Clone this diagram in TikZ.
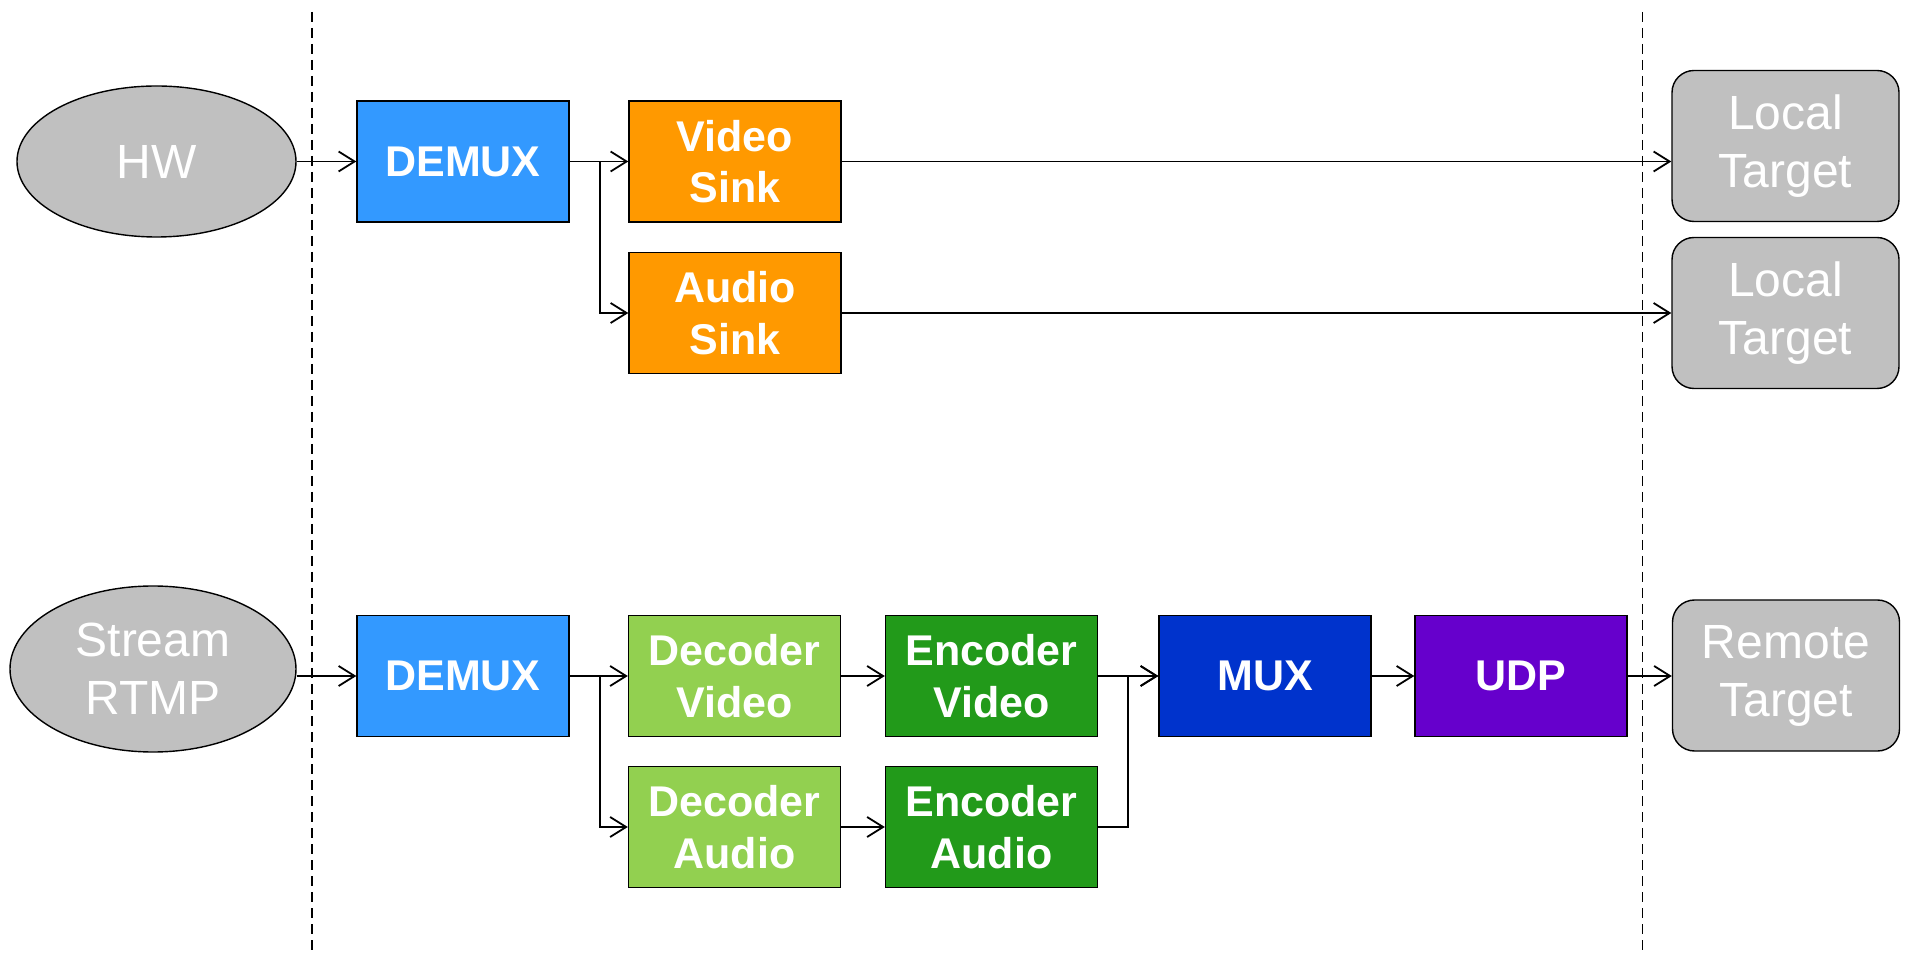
\documentclass[tikz,border=0pt]{standalone}
\usepackage{fontspec}
\setmainfont{Liberation Sans}
\usetikzlibrary{arrows.meta,shapes.geometric}
\definecolor{cdemux}{HTML}{3399FF}
\definecolor{csink}{HTML}{FF9900}
\definecolor{cdec}{HTML}{92D050}
\definecolor{cenc}{HTML}{229A1A}
\definecolor{cmux}{HTML}{0033CC}
\definecolor{cudp}{HTML}{6600CC}
\definecolor{cgrey}{HTML}{C0C0C0}
\begin{document}
\begin{tikzpicture}[x=0.5pt,y=-0.5pt,
  box/.style={draw=black,line width=0.7pt,minimum width=106pt,minimum height=60.5pt,inner sep=0pt,text=white,font=\fontsize{21.5}{25.8}\selectfont\bfseries,align=center},
  tgt/.style={draw=black,line width=0.7pt,fill=cgrey,rounded corners=11pt,minimum width=113.5pt,minimum height=75.5pt,inner sep=0pt,text=white,font=\fontsize{24}{29}\selectfont,align=center},
  src/.style={ellipse,draw=black,line width=0.7pt,fill=cgrey,inner sep=0pt,text=white,font=\fontsize{24}{29}\selectfont,align=center},
  arr/.style={-{Straight Barb[length=8pt,width=10pt]},line width=0.9pt},
  divider/.style={dashed,dash pattern=on 5pt off 3pt,line width=0.9pt}]
\useasboundingbox (0,0) rectangle (1910,961);
% dividers
\coordinate (d1t) at (312,12);
\coordinate (d1b) at (312,954);
\coordinate (d2t) at (1642.5,12);
\coordinate (d2b) at (1642.5,954);
\draw[divider] (d1t) -- (d1b);
\draw[divider] (d2t) -- (d2b);
% top row
\node[src,minimum width=139.5pt,minimum height=75.5pt] (hw) at (156.5,161.5) {HW};
\node[box,fill=cdemux] (dm1) at (463,161.5) {DEMUX};
\node[box,fill=csink] (vs) at (735,161.5) {Video\\Sink};
\node[box,fill=csink] (as) at (735,313) {Audio\\Sink};
\node[tgt] (lt1) at (1785.5,146) {Local\\Target};
\node[tgt] (lt2) at (1785.5,313) {Local\\Target};
% bottom row
\node[src,minimum width=143pt,minimum height=83pt] (rtmp) at (153,669) {Stream\\RTMP};
\node[box,fill=cdemux] (dm2) at (463,676) {DEMUX};
\node[box,fill=cdec] (dv) at (734.5,676) {Decoder\\Video};
\node[box,fill=cdec] (da) at (734.5,827) {Decoder\\Audio};
\node[box,fill=cenc] (ev) at (991.5,676) {Encoder\\Video};
\node[box,fill=cenc] (ea) at (991.5,827) {Encoder\\Audio};
\node[box,fill=cmux] (mux) at (1265,676) {MUX};
\node[box,fill=cudp] (udp) at (1521,676) {UDP};
\node[tgt] (rt) at (1786,675.5) {Remote\\Target};
% connectors
\draw[arr] (hw.east) -- (dm1.west);
\draw[arr] (dm1.east) -- (vs.west);
\draw[arr] (dm1.east) -- ++(30,0) |- (as.west);
\draw[arr] (vs.east) -- (vs.east -| lt1.west);
\draw[arr] (as.east) -- (lt2.west);
\draw[arr] (rtmp.east |- dm2.west) -- (dm2.west);
\draw[arr] (dm2.east) -- (dv.west);
\draw[arr] (dm2.east) -- ++(30,0) |- (da.west);
\draw[arr] (dv) -- (ev);
\draw[arr] (da) -- (ea);
\draw[arr] (ev) -- (mux);
\draw[arr] (ea.east) -- ++(30,0) |- (mux.west);
\draw[arr] (mux) -- (udp);
\draw[arr] (udp.east) -- (udp.east -| rt.west);
\end{tikzpicture}
\end{document}
